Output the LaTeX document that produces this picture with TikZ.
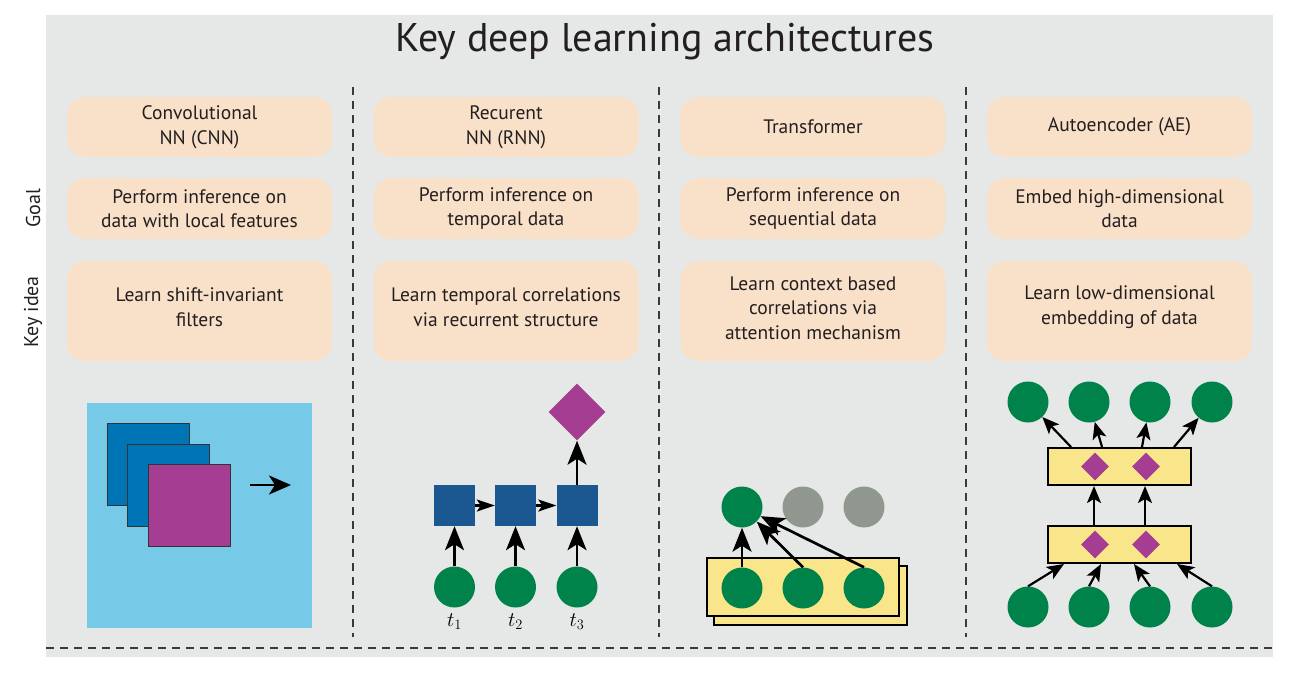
\documentclass[tikz,border=0pt]{standalone}
\usepackage{fontspec}
\setmainfont{PT Sans}
\usetikzlibrary{arrows.meta,shapes.geometric,calc}
\definecolor{bggrey}{HTML}{E6E8E7}
\definecolor{peach}{HTML}{F9E1C9}
\definecolor{skyb}{HTML}{77C9E8}
\definecolor{cnnblue}{HTML}{0075B5}
\definecolor{magen}{HTML}{A53E92}
\definecolor{rnnblue}{HTML}{1B5891}
\definecolor{grn}{HTML}{00834A}
\definecolor{greyc}{HTML}{8F978F}
\definecolor{yel}{HTML}{FAE68A}
\definecolor{dashc}{HTML}{3A3A3A}
\definecolor{txt}{HTML}{231F20}
\tikzset{
  infobox/.style={rounded corners=18pt, fill=peach, minimum width=265pt, inner sep=0pt},
  boxtext/.style={text=txt, align=center, font=\fontsize{19.5}{24.5}\selectfont},
  sidelabel/.style={text=txt, rotate=90, font=\fontsize{20}{22}\selectfont},
  divider/.style={dashc, line width=2pt, dash pattern=on 8pt off 6pt},
  cnnsq/.style={draw=black!80, line width=0.8pt, minimum size=82pt, inner sep=0pt},
  rnnsq/.style={fill=rnnblue, minimum size=41pt, inner sep=0pt},
  dot/.style={circle, fill=grn, minimum size=41pt, inner sep=0pt},
  greydot/.style={circle, fill=greyc, minimum size=41pt, inner sep=0pt},
  gem/.style={diamond, fill=magen, inner sep=0pt, minimum width=#1, minimum height=#1},
  ybox/.style={fill=yel, draw=black, line width=2pt, inner sep=0pt},
  arr/.style={line width=2.7pt, -{Stealth[length=24pt,width=19pt,inset=6pt]}},
  harr/.style={line width=2.2pt, -{Stealth[length=18pt,width=12pt,inset=4pt]}},
  cnnarr/.style={line width=2.2pt, -{Stealth[length=22pt,width=19pt,inset=6pt]}},
  smallarr/.style={line width=2.2pt, -{Stealth[length=17pt,width=14pt,inset=4pt]}},
  tlabel/.style={font=\fontsize{21}{22}\selectfont}
}
\begin{document}
\begin{tikzpicture}[x=1pt,y=-1pt]
\useasboundingbox (0,0) rectangle (1292,683);
\fill[bggrey] (46,15) rectangle (1273,657);
\node[text=txt, font=\fontsize{40}{46}\selectfont] (title) at (665,42) {Key deep learning architectures};

% dividers
\draw[divider] (353,87) -- (353,637);
\draw[divider] (659,87) -- (659,637);
\draw[divider] (966,87) -- (966,637);
\draw[divider] (46,648) -- (1273,648);

% side labels
\node[sidelabel] (goal) at (33,208) {Goal};
\node[sidelabel] (keyidea) at (33,312) {Key idea};

% boxes
\foreach \cx/\nm in {199.5/a,506/b,813/c,1119.5/d}{
  \node[infobox, minimum height=60pt] (h\nm) at (\cx,127) {};
  \node[infobox, minimum height=61pt] (g\nm) at (\cx,208.5) {};
  \node[infobox, minimum height=100pt] (k\nm) at (\cx,311) {};
}
\node[boxtext] (hta) at (ha) {Convolutional\\NN (CNN)};
\node[boxtext] (htb) at (hb) {Recurent\\NN (RNN)};
\node[boxtext] (htc) at (hc) {Transformer};
\node[boxtext] (htd) at (hd) {Autoencoder (AE)};
\node[boxtext] (gta) at (ga) {Perform inference on\\data with local features};
\node[boxtext] (gtb) at (gb) {Perform inference on\\temporal data};
\node[boxtext] (gtc) at (gc) {Perform inference on\\sequential data};
\node[boxtext] (gtd) at (gd) {Embed high-dimensional\\data};
\node[boxtext] (kta) at (199.5,307) {Learn shift-invariant\\filters};
\node[boxtext] (ktb) at (506,307) {Learn temporal correlations\\via recurrent structure};
\node[boxtext] (ktc) at (813,308) {Learn context based\\correlations via\\attention mechanism};
\node[boxtext] (ktd) at (1119.5,307) {Learn low-dimensional\\embedding of data};

% CNN
\fill[skyb] (87,403) rectangle (312,628);
\node[cnnsq, fill=cnnblue] (f1) at (148,464.5) {};
\node[cnnsq, fill=cnnblue] (f2) at (168.5,485) {};
\node[cnnsq, fill=magen] (f3) at (189,505.5) {};
\coordinate (ca) at (250,485);
\coordinate (cb) at (291,485);
\draw[cnnarr] (ca) -- (cb);

% RNN
\node[rnnsq] (s1) at (454.5,505.5) {};
\node[rnnsq] (s2) at (515.5,505.5) {};
\node[rnnsq] (s3) at (577,505.5) {};
\node[dot] (x1) at (454.5,587) {};
\node[dot] (x2) at (515.5,587) {};
\node[dot] (x3) at (577,587) {};
\node[tlabel] (t1) at (454.5,622) {$t_1$};
\node[tlabel] (t2) at (515.5,622) {$t_2$};
\node[tlabel] (t3) at (577,622) {$t_3$};
\node[gem=57pt] (dout) at (577,412) {};
\draw[arr] (x1) -- (s1);
\draw[arr] (x2) -- (s2);
\draw[arr] (x3) -- (s3);
\draw[harr] (s1) -- (s2);
\draw[harr] (s2) -- (s3);
\draw[arr] (s3) -- (dout);

% Transformer
\node[ybox, minimum width=193pt, minimum height=59pt] (tb) at (810.5,595.5) {};
\node[ybox, minimum width=192pt, minimum height=58pt] (tf) at (803,587) {};
\node[dot] (b1) at (742,588) {};
\node[dot] (b2) at (803,588) {};
\node[dot] (b3) at (864,588) {};
\node[dot] (q1) at (742,507) {};
\node[greydot] (q2) at (803,507) {};
\node[greydot] (q3) at (864,507) {};
\draw[arr] (b1.north) -- (q1);
\draw[arr] (b2.north) -- (q1);
\draw[arr] (b3.north) -- (q1);

% Autoencoder
\node[ybox, minimum width=143pt, minimum height=37pt] (ur) at (1119.5,466.5) {};
\node[ybox, minimum width=143pt, minimum height=37pt] (lr) at (1119.5,544.5) {};
\node[gem=28pt] (ud1) at (1095,466.5) {};
\node[gem=28pt] (ud2) at (1146,466.5) {};
\node[gem=28pt] (ld1) at (1095,544.5) {};
\node[gem=28pt] (ld2) at (1146,544.5) {};
\foreach \i/\x in {1/1028,2/1089,3/1150,4/1212}{
  \node[dot] (o\i) at (\x,402) {};
  \node[dot] (i\i) at (\x,607) {};
}
\draw[smallarr] (i1.north) -- ([xshift=17pt]lr.south west);
\draw[smallarr] (i2.north) -- ([xshift=54pt]lr.south west);
\draw[smallarr] (i3.north) -- ([xshift=87pt]lr.south west);
\draw[smallarr] (i4.north) -- ([xshift=130pt]lr.south west);
\draw[smallarr] ([xshift=47pt]lr.north west) -- ([xshift=47pt]ur.south west);
\draw[smallarr] ([xshift=98pt]lr.north west) -- ([xshift=98pt]ur.south west);
\draw[smallarr] ([xshift=24pt]ur.north west) -- (o1);
\draw[smallarr] ([xshift=55pt]ur.north west) -- (o2);
\draw[smallarr] ([xshift=95pt]ur.north west) -- (o3);
\draw[smallarr] ([xshift=127pt]ur.north west) -- (o4);
\end{tikzpicture}
\end{document}
